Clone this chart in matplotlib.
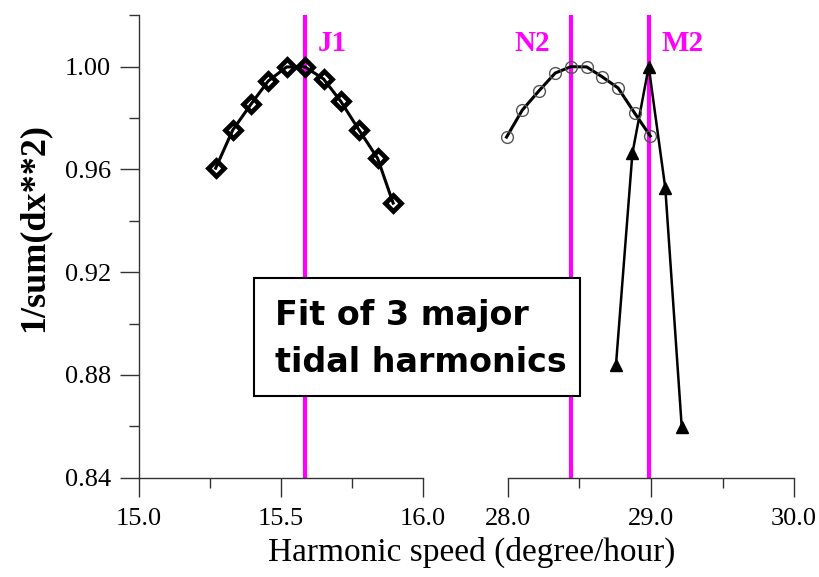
"""Goodness of fit vs harmonic speed for three tidal constituents (broken x axis)."""

import matplotlib

matplotlib.use("Agg")
import matplotlib.pyplot as plt
from matplotlib.patches import Rectangle
from matplotlib.ticker import MultipleLocator


# J1 scan (diamonds)
j1_speed = [15.27, 15.33, 15.395, 15.455, 15.52, 15.585, 15.65, 15.71, 15.775, 15.84, 15.895]
j1_fit = [0.9605, 0.9753, 0.9855, 0.9944, 0.9999, 0.9999, 0.9952, 0.9866, 0.9753, 0.9644, 0.9469]

# N2 scan (open circles)
n2_speed = [27.99, 28.10, 28.215, 28.33, 28.44, 28.55, 28.66, 28.77, 28.885, 28.995]
n2_fit = [0.9726, 0.9831, 0.9905, 0.9975, 1.0000, 0.9999, 0.9960, 0.9917, 0.9820, 0.9730]

# M2 scan (triangles)
m2_speed = [28.755, 28.87, 28.984, 29.10, 29.215]
m2_fit = [0.8838, 0.9663, 1.0000, 0.9527, 0.8597]

# constituent speeds (degree/hour)
harmonics = {"J1": 15.5854, "N2": 28.4397, "M2": 28.9841}

y_ticks = [0.84, 0.88, 0.92, 0.96, 1.00]
left_ticks = [15.0, 15.5, 16.0]
right_ticks = [28.0, 29.0, 30.0]

MAGENTA = "#ff00ff"
SPINE = "#333333"
SERIF = ["Liberation Serif", "DejaVu Serif"]
TICK_SIZE = 19


def style_axis(ax, show_left):
    ax.spines["top"].set_visible(False)
    ax.spines["right"].set_visible(False)
    ax.spines["left"].set_visible(show_left)
    for side in ("left", "bottom"):
        ax.spines[side].set_color(SPINE)
        ax.spines[side].set_linewidth(1.0)
    ax.tick_params(which="major", direction="out", length=14, width=1.0, color=SPINE, pad=6)
    ax.tick_params(which="minor", direction="out", length=7, width=1.0, color=SPINE)
    ax.set_ylim(0.84, 1.02)
    ax.yaxis.set_minor_locator(MultipleLocator(0.02))
    if show_left:
        ax.set_yticks(y_ticks)
        ax.set_yticklabels([f"{v:.2f}" for v in y_ticks], family=SERIF, fontsize=TICK_SIZE)
    else:
        ax.tick_params(axis="y", which="both", left=False, labelleft=False)
    ax.set_facecolor("none")


def vline(ax, name, dx):
    x = harmonics[name]
    ax.axvline(x, color=MAGENTA, linewidth=3.0, zorder=1)
    ax.annotate(name, xy=(x, 1.009), xytext=(dx, 0), textcoords="offset points",
                ha="left" if dx > 0 else "right", va="center", color=MAGENTA,
                fontsize=21, fontweight="bold", family=SERIF, annotation_clip=False)


def main():
    fig = plt.figure(figsize=(8.2, 5.77), dpi=100)
    ax1 = fig.add_axes([0.1695, 0.1721, 0.3463, 0.8014])
    ax2 = fig.add_axes([0.6195, 0.1721, 0.3488, 0.8014])

    style_axis(ax1, True)
    style_axis(ax2, False)

    ax1.set_xlim(15.0, 16.0)
    ax1.set_xticks(left_ticks)
    ax1.set_xticklabels([f"{v:.1f}" for v in left_ticks], family=SERIF, fontsize=TICK_SIZE)
    ax1.xaxis.set_minor_locator(MultipleLocator(0.25))

    ax2.set_xlim(28.0, 30.0)
    ax2.set_xticks(right_ticks)
    ax2.set_xticklabels([f"{v:.1f}" for v in right_ticks], family=SERIF, fontsize=TICK_SIZE)
    ax2.xaxis.set_minor_locator(MultipleLocator(0.5))
    ax1.tick_params(axis="x", pad=8)
    ax2.tick_params(axis="x", pad=8)

    vline(ax1, "J1", 9)
    vline(ax2, "N2", -15)
    vline(ax2, "M2", 9)

    ax1.plot(j1_speed, j1_fit, color="black", linewidth=2.2, marker="D", markersize=8,
             markerfacecolor="none", markeredgecolor="black", markeredgewidth=3.4, zorder=3)
    ax2.plot(n2_speed, n2_fit, color="black", linewidth=2.2, zorder=3, clip_on=False)
    ax2.plot(n2_speed, n2_fit, linestyle="none", marker="o", markersize=8.5,
             markerfacecolor="none", markeredgecolor="#555555", markeredgewidth=1.0, zorder=4,
             clip_on=False)
    ax2.plot(m2_speed, m2_fit, color="black", linewidth=1.8, marker="^", markersize=8.5,
             markerfacecolor="black", markeredgecolor="black", zorder=3)

    ax1.set_ylabel("1/sum(dx**2)", fontsize=26, fontweight="bold", family=SERIF)
    ax1.yaxis.set_label_coords(-0.313, 0.54)
    fig.text(0.575, 0.043, "Harmonic speed (degree/hour)", ha="center", va="center",
             fontsize=24, family=SERIF)

    # annotation box spanning the axis break
    fig.patches.append(Rectangle((0.3098, 0.3137), 0.3976, 0.2045, transform=fig.transFigure,
                                 facecolor="white", edgecolor="black", linewidth=1.5, zorder=5))
    fig.text(0.3354, 0.4367, "Fit of 3 major", fontsize=24, fontweight="bold",
             family="DejaVu Sans", va="baseline", zorder=6)
    fig.text(0.3354, 0.3553, "tidal harmonics", fontsize=24, fontweight="bold",
             family="DejaVu Sans", va="baseline", zorder=6)

    fig.savefig("out.png", dpi=100)
    plt.close(fig)
    return 0


if __name__ == "__main__":
    raise SystemExit(main())
